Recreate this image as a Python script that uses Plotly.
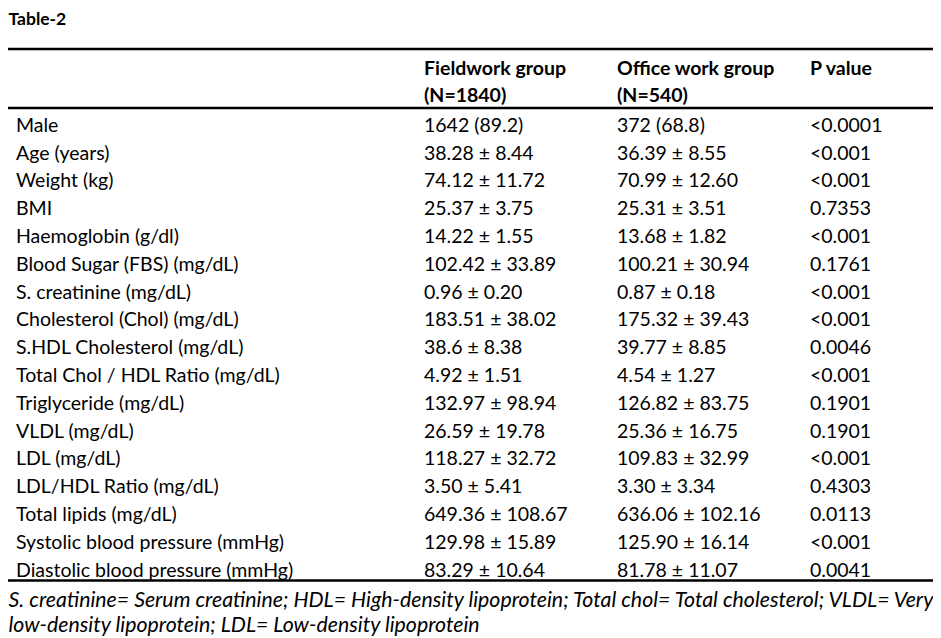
import plotly.graph_objects as go

# table content
variables = ["Male", "Age (years)", "Weight (kg)", "BMI", "Haemoglobin (g/dl)",
             "Blood Sugar (FBS) (mg/dL)", "S. creatinine (mg/dL)",
             "Cholesterol (Chol) (mg/dL)", "S.HDL Cholesterol (mg/dL)",
             "Total Chol / HDL Ratio (mg/dL)", "Triglyceride (mg/dL)", "VLDL (mg/dL)",
             "LDL (mg/dL)", "LDL/HDL Ratio (mg/dL)", "Total lipids (mg/dL)",
             "Systolic blood pressure (mmHg)", "Diastolic blood pressure (mmHg)"]
fieldwork = ["1642 (89.2)", "38.28 ± 8.44", "74.12 ± 11.72", "25.37 ± 3.75", "14.22 ± 1.55",
             "102.42 ± 33.89", "0.96 ± 0.20", "183.51 ± 38.02", "38.6 ± 8.38", "4.92 ± 1.51",
             "132.97 ± 98.94", "26.59 ± 19.78", "118.27 ± 32.72", "3.50 ± 5.41",
             "649.36 ± 108.67", "129.98 ± 15.89", "83.29 ± 10.64"]
office = ["372 (68.8)", "36.39 ± 8.55", "70.99 ± 12.60", "25.31 ± 3.51", "13.68 ± 1.82",
          "100.21 ± 30.94", "0.87 ± 0.18", "175.32 ± 39.43", "39.77 ± 8.85", "4.54 ± 1.27",
          "126.82 ± 83.75", "25.36 ± 16.75", "109.83 ± 32.99", "3.30 ± 3.34",
          "636.06 ± 102.16", "125.90 ± 16.14", "81.78 ± 11.07"]
p_values = ["<0.0001", "<0.001", "<0.001", "0.7353", "<0.001", "0.1761", "<0.001", "<0.001",
            "0.0046", "<0.001", "0.1901", "0.1901", "<0.001", "0.4303", "0.0113", "<0.001",
            "0.0041"]
headers = ["Fieldwork group", "Office work group", "P value"]
sub_headers = ["(N=1840)", "(N=540)", ""]
footnote = ["S. creatinine= Serum creatinine; HDL= High-density lipoprotein; Total chol= Total cholesterol; VLDL= Very",
            "low-density lipoprotein; LDL= Low-density lipoprotein"]

FONT = "Lato"
SIZE = 19.5
col_x = [16, 424, 617, 810]
row_y0, row_step = 127, 27.8
row_y = [row_y0 + row_step * i for i in range(len(variables))]


def text_trace(xs, ys, texts, size=SIZE):
    return go.Scatter(x=xs, y=ys, text=texts, mode="text", textposition="middle right",
                      hoverinfo="skip", cliponaxis=False,
                      textfont=dict(family=FONT, size=size, color="black"))


fig = go.Figure()
for x, col in zip(col_x, [variables, fieldwork, office, p_values]):
    fig.add_trace(text_trace([x] * len(col), row_y, col))

fig.add_trace(text_trace(col_x[1:], [70] * 3, ["<b>%s</b>" % h for h in headers]))
fig.add_trace(text_trace(col_x[1:], [97] * 3, ["<b>%s</b>" % h for h in sub_headers]))
fig.add_trace(text_trace([8.5], [21], ["<b>Table-2</b>"], size=17.5))
fig.add_trace(text_trace([8.5, 8.5], [602, 626.5], ["<i>%s</i>" % f for f in footnote], size=21.3))

for y in [49, 108, 580.5]:
    fig.add_shape(type="line", x0=6, x1=936, y0=y, y1=y, line=dict(color="black", width=2.5))

# page body has an 8px margin, so the figure starts at (8, 8)
fig.update_layout(width=933, height=630, margin=dict(l=0, r=0, t=0, b=0),
                  showlegend=False, plot_bgcolor="white", paper_bgcolor="white",
                  xaxis=dict(range=[8, 941], visible=False, fixedrange=True),
                  yaxis=dict(range=[638, 8], visible=False, fixedrange=True))
fig.write_html("out.html")
